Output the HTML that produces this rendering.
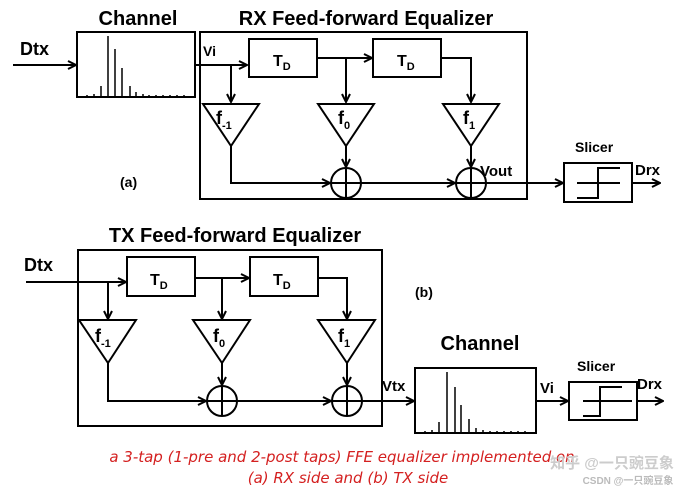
<!DOCTYPE html>
<html><head><meta charset="utf-8"><style>
html,body{margin:0;padding:0;background:#fff;}
svg{display:block;}
text{font-family:"Liberation Sans",sans-serif;font-weight:bold;fill:#000;}
.r{font-family:"DejaVu Sans","Liberation Sans",sans-serif;font-style:italic;font-weight:normal;fill:#d42020;font-size:15px;}
</style></head><body>
<svg width="685" height="492" viewBox="0 0 685 492" xmlns="http://www.w3.org/2000/svg">
<defs>
<marker id="a" markerWidth="10" markerHeight="10" refX="9" refY="5" orient="auto" markerUnits="userSpaceOnUse">
<path d="M1,1 L9,5 L1,9" fill="none" stroke="#000" stroke-width="2"/>
</marker>
</defs>
<g stroke="#000" stroke-width="2" fill="none">
<rect x="77" y="32" width="118" height="65"/>
<rect x="200" y="32" width="327" height="167"/>
<line x1="13" y1="65" x2="76" y2="65" marker-end="url(#a)"/>
<line x1="195" y1="65" x2="247" y2="65" marker-end="url(#a)"/>
<rect x="249" y="39" width="68" height="38"/>
<rect x="373" y="39" width="68" height="38"/>
<line x1="317" y1="58" x2="372" y2="58" marker-end="url(#a)"/>
<polyline points="441,58 471,58 471,102" marker-end="url(#a)"/>
<line x1="231" y1="65" x2="231" y2="102" marker-end="url(#a)"/>
<line x1="346" y1="58" x2="346" y2="102" marker-end="url(#a)"/>
<polygon points="203,104 259,104 231,146"/>
<polygon points="318,104 374,104 346,146"/>
<polygon points="443,104 499,104 471,146"/>
<line x1="346" y1="146" x2="346" y2="167" marker-end="url(#a)"/>
<line x1="471" y1="146" x2="471" y2="167" marker-end="url(#a)"/>
<polyline points="231,146 231,183 330,183" marker-end="url(#a)"/>
<circle cx="346" cy="183" r="15"/>
<circle cx="471" cy="183" r="15"/>
<line x1="331" y1="183" x2="361" y2="183"/><line x1="346" y1="168" x2="346" y2="198"/>
<line x1="456" y1="183" x2="486" y2="183"/><line x1="471" y1="168" x2="471" y2="198"/>
<line x1="361" y1="183" x2="455" y2="183" marker-end="url(#a)"/>
<line x1="486" y1="183" x2="563" y2="183" marker-end="url(#a)"/>
<rect x="564" y="163" width="68" height="39"/>
<polyline points="620,168 598,168 598,198 577,198"/>
<line x1="577" y1="183" x2="620" y2="183"/>
<line x1="632" y1="183" x2="660" y2="183" marker-end="url(#a)"/>
<g stroke-width="1.5">
<line x1="108" y1="97" x2="108" y2="36"/><line x1="115" y1="97" x2="115" y2="49"/>
<line x1="122" y1="97" x2="122" y2="68"/><line x1="130" y1="97" x2="130" y2="86"/>
<line x1="101" y1="97" x2="101" y2="86"/><line x1="136" y1="97" x2="136" y2="92"/>
<line x1="94" y1="97" x2="94" y2="94"/><line x1="143" y1="97" x2="143" y2="94"/>
<line x1="149" y1="97" x2="149" y2="95"/><line x1="156" y1="97" x2="156" y2="95"/>
<line x1="163" y1="97" x2="163" y2="95"/><line x1="170" y1="97" x2="170" y2="95"/>
<line x1="177" y1="97" x2="177" y2="95"/><line x1="184" y1="97" x2="184" y2="95"/>
<line x1="87" y1="97" x2="87" y2="95"/>
</g>
<rect x="78" y="250" width="304" height="176"/>
<line x1="26" y1="282" x2="126" y2="282" marker-end="url(#a)"/>
<rect x="127" y="257" width="68" height="39"/>
<rect x="250" y="257" width="68" height="39"/>
<line x1="195" y1="278" x2="249" y2="278" marker-end="url(#a)"/>
<polyline points="318,278 347,278 347,319" marker-end="url(#a)"/>
<line x1="108" y1="282" x2="108" y2="319" marker-end="url(#a)"/>
<line x1="222" y1="278" x2="222" y2="319" marker-end="url(#a)"/>
<polygon points="79,320 136,320 108,363"/>
<polygon points="193,320 250,320 222,363"/>
<polygon points="318,320 375,320 347,363"/>
<line x1="222" y1="363" x2="222" y2="385" marker-end="url(#a)"/>
<line x1="347" y1="363" x2="347" y2="385" marker-end="url(#a)"/>
<polyline points="108,363 108,401 206,401" marker-end="url(#a)"/>
<circle cx="222" cy="401" r="15"/>
<circle cx="347" cy="401" r="15"/>
<line x1="207" y1="401" x2="237" y2="401"/><line x1="222" y1="386" x2="222" y2="416"/>
<line x1="332" y1="401" x2="362" y2="401"/><line x1="347" y1="386" x2="347" y2="416"/>
<line x1="237" y1="401" x2="331" y2="401" marker-end="url(#a)"/>
<line x1="362" y1="401" x2="414" y2="401" marker-end="url(#a)"/>
<rect x="415" y="368" width="121" height="65"/>
<line x1="536" y1="401" x2="568" y2="401" marker-end="url(#a)"/>
<rect x="569" y="382" width="68" height="38"/>
<polyline points="622,387 600,387 600,416 583,416"/>
<line x1="583" y1="401" x2="632" y2="401"/>
<line x1="637" y1="401" x2="663" y2="401" marker-end="url(#a)"/>
<g stroke-width="1.5">
<line x1="447" y1="433" x2="447" y2="372"/><line x1="455" y1="433" x2="455" y2="387"/>
<line x1="461" y1="433" x2="461" y2="405"/><line x1="469" y1="433" x2="469" y2="419"/>
<line x1="439" y1="433" x2="439" y2="422"/><line x1="476" y1="433" x2="476" y2="428"/>
<line x1="432" y1="433" x2="432" y2="430"/><line x1="483" y1="433" x2="483" y2="430"/>
<line x1="490" y1="433" x2="490" y2="431"/><line x1="497" y1="433" x2="497" y2="431"/>
<line x1="504" y1="433" x2="504" y2="431"/><line x1="511" y1="433" x2="511" y2="431"/>
<line x1="518" y1="433" x2="518" y2="431"/><line x1="525" y1="433" x2="525" y2="431"/>
<line x1="425" y1="433" x2="425" y2="431"/>
</g>
</g>
<text x="138" y="25" font-size="20" text-anchor="middle">Channel</text>
<text x="366" y="25" font-size="20" text-anchor="middle">RX Feed-forward Equalizer</text>
<text x="20" y="55" font-size="18">Dtx</text>
<text x="203" y="56" font-size="14">Vi</text>
<text x="273" y="66" font-size="16">T<tspan font-size="11" dy="4">D</tspan></text>
<text x="397" y="66" font-size="16">T<tspan font-size="11" dy="4">D</tspan></text>
<text x="216" y="124" font-size="18">f<tspan font-size="11" dy="5">-1</tspan></text>
<text x="338" y="124" font-size="18">f<tspan font-size="11" dy="5">0</tspan></text>
<text x="463" y="124" font-size="18">f<tspan font-size="11" dy="5">1</tspan></text>
<text x="480" y="176" font-size="15">Vout</text>
<text x="120" y="187" font-size="14">(a)</text>
<text x="575" y="152" font-size="14">Slicer</text>
<text x="635" y="175" font-size="15">Drx</text>
<text x="235" y="242" font-size="20" text-anchor="middle">TX Feed-forward Equalizer</text>
<text x="24" y="271" font-size="18">Dtx</text>
<text x="150" y="285" font-size="16">T<tspan font-size="11" dy="4">D</tspan></text>
<text x="273" y="285" font-size="16">T<tspan font-size="11" dy="4">D</tspan></text>
<text x="95" y="342" font-size="18">f<tspan font-size="11" dy="5">-1</tspan></text>
<text x="213" y="342" font-size="18">f<tspan font-size="11" dy="5">0</tspan></text>
<text x="338" y="342" font-size="18">f<tspan font-size="11" dy="5">1</tspan></text>
<text x="415" y="297" font-size="14">(b)</text>
<text x="480" y="350" font-size="20" text-anchor="middle">Channel</text>
<text x="382" y="391" font-size="15">Vtx</text>
<text x="540" y="393" font-size="15">Vi</text>
<text x="577" y="371" font-size="14">Slicer</text>
<text x="637" y="389" font-size="15">Drx</text>
<text class="r" x="342" y="462" text-anchor="middle">a 3-tap (1-pre and 2-post taps) FFE equalizer implemented on</text>
<text class="r" x="348" y="483" text-anchor="middle">(a) RX side and (b) TX side</text>
<text x="612" y="468" font-size="15" font-weight="normal" style="fill:#ccc;font-family:'Liberation Sans','Noto Sans CJK SC',sans-serif" text-anchor="middle">知乎 @一只豌豆象</text>
<text x="628" y="484" font-size="10" font-weight="normal" style="fill:#bbb;font-family:'Liberation Sans','Noto Sans CJK SC',sans-serif" text-anchor="middle">CSDN @一只豌豆象</text>
</svg>
</body></html>
